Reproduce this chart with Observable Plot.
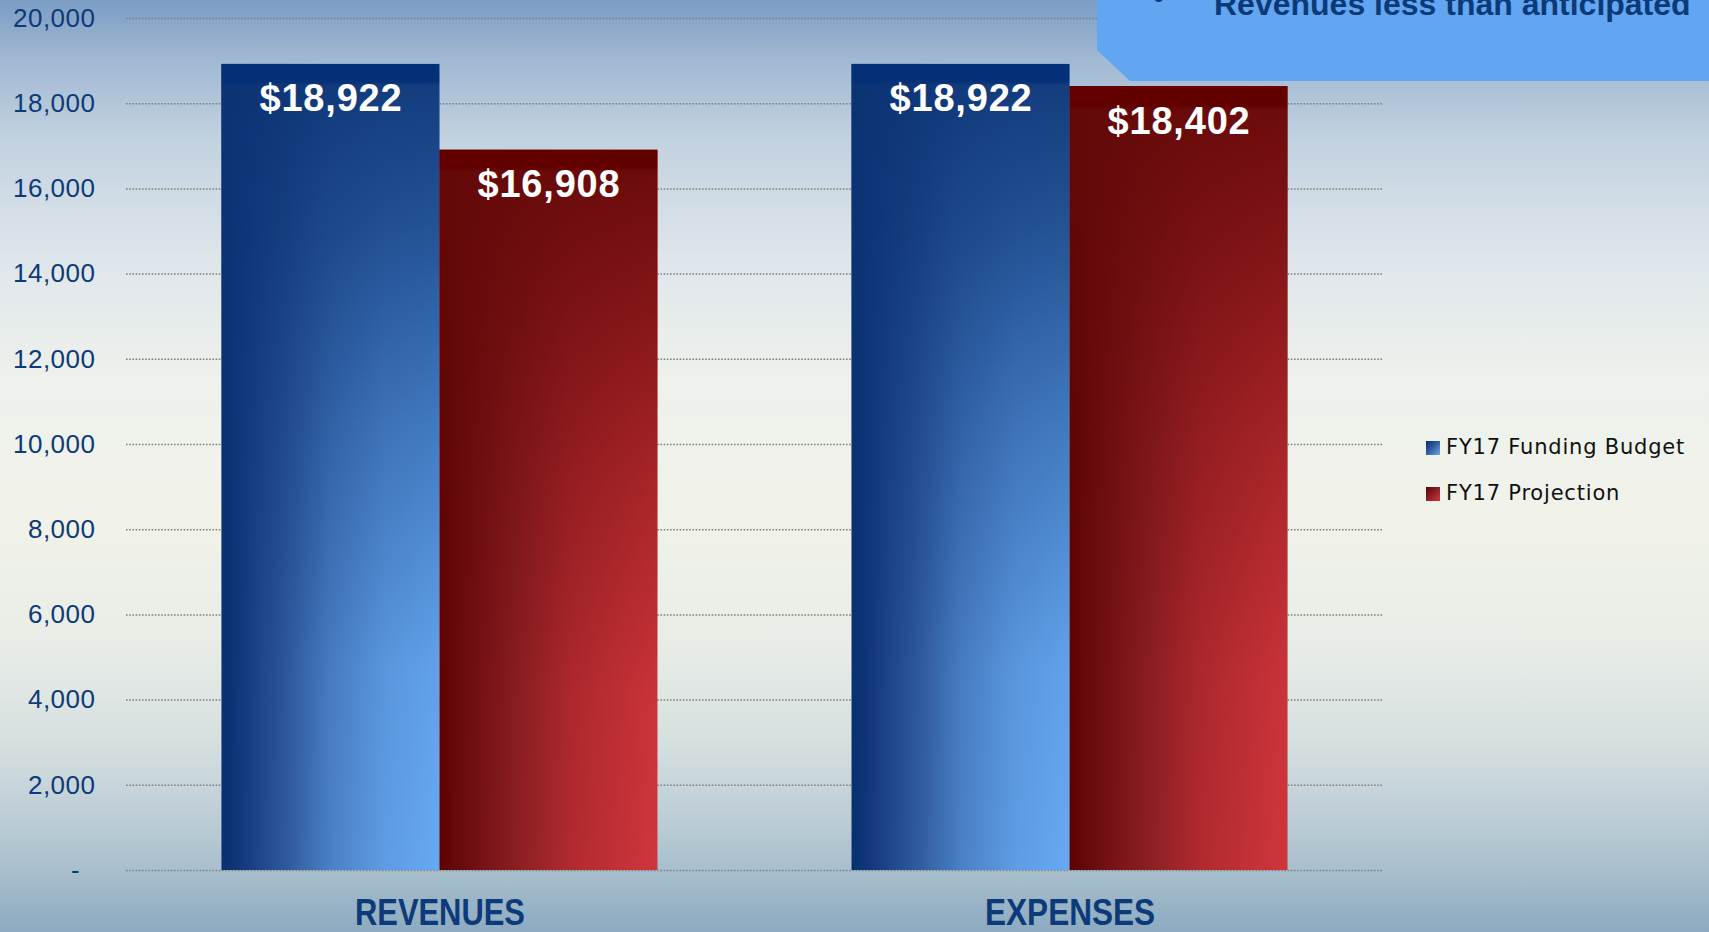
<!DOCTYPE html>
<html>
<head>
<meta charset="utf-8">
<script src="https://cdn.jsdelivr.net/npm/d3@7"></script>
<script src="https://cdn.jsdelivr.net/npm/@observablehq/plot@0.6"></script>
<style>
  html, body { margin: 0; padding: 0; }
  body {
    width: 1709px; height: 932px; overflow: hidden; position: relative;
    background: linear-gradient(to bottom, #7b9cc4 0px, #9fb7d2 55px, #c2d2e0 140px, #dfe6eb 260px, #eef1ec 380px, #f1f3ea 520px, #e9ede7 640px, #d6e0e0 740px, #bccdd6 820px, #a4bccb 880px, #8caac1 932px);
    font-family: "Liberation Sans", Arial, sans-serif;
  }
  #chart { position: absolute; left: 0; top: 0; }
  #callout {
    position: absolute; left: 1097px; top: 0; width: 612px; height: 81px;
    background: #62a5f1;
    clip-path: polygon(0 0, 100% 0, 100% 100%, 33px 100%, 0 50px);
    overflow: hidden;
  }
  #callout .txt {
    position: absolute; left: 117px; top: -14px; line-height: 32px;
    font: bold 32px "Liberation Sans", Arial, sans-serif; color: #0c3a78; white-space: nowrap;
  }
  #callout .bul {
    position: absolute; left: 56px; top: -21px; line-height: 32px;
    font: bold 32px "Liberation Sans", Arial, sans-serif; color: #0c3a78;
  }
  #legend { position: absolute; left: 1426px; top: 437px; }
  #legend .item { position: relative; height: 46px; font: 21px "DejaVu Sans", sans-serif; letter-spacing: 0.8px; color: #111; white-space: nowrap; }
  #legend .sw { position: absolute; left: 0; top: 4px; width: 14px; height: 14px; }
  #legend .lab { position: absolute; left: 20px; top: -5px; line-height: 30px; }
</style>
</head>
<body>
<div id="chart"></div>
<div id="callout"><span class="bul">•</span><span class="txt"></span></div>
<div id="legend"></div>
<script>
// ---- data ----
const categories = ["REVENUES", "EXPENSES"];
const seriesNames = ["FY17 Funding Budget", "FY17 Projection"];
const budgetValues = [18922, 18922];
const projectionValues = [16908, 18402];
const yTicks = [0, 2000, 4000, 6000, 8000, 10000, 12000, 14000, 16000, 18000, 20000];
const calloutText = "Revenues less than anticipated";

// ---- layout ----
const W = 1709, H = 932;
const mL = 126, mR = 326, mT = 18, mB = 62;
const padIn = 0.308, padOut = 0.1515;
const band = d3.scaleBand().domain(categories).range([mL, W - mR]).paddingInner(padIn).paddingOuter(padOut);
const bw = band.bandwidth();
const half = bw / 2;

const budgetRows = categories.map((c, i) => ({category: c, series: seriesNames[0], value: budgetValues[i]}));
const projRows = categories.map((c, i) => ({category: c, series: seriesNames[1], value: projectionValues[i]}));

const fmt = d3.format(",");
const label = d => "$" + fmt(d.value);
const axisBlue = "#0d3a78";

const valueText = (rows, dx) => Plot.text(rows, {
  x: "category", y: "value", text: label, dx, dy: 20, lineAnchor: "top",
  fill: "white", fontSize: 38, fontWeight: "bold", fontFamily: "Liberation Sans, Arial, sans-serif"
});

const plot = Plot.plot({
  width: W, height: H,
  marginLeft: mL, marginRight: mR, marginTop: mT, marginBottom: mB,
  style: {background: "transparent", overflow: "visible"},
  x: {domain: categories, paddingInner: padIn, paddingOuter: padOut, round: false, label: null},
  y: {domain: [0, 20000], label: null},
  marks: [
    Plot.ruleY(yTicks, {stroke: "#808080", strokeWidth: 1.5, strokeDasharray: "1.6,1.6"}),
    Plot.barY(budgetRows, {x: "category", y: "value", fill: "url(#blueH)", insetRight: half}),
    Plot.barY(budgetRows, {x: "category", y: "value", fill: "url(#blueV)", insetRight: half}),
    Plot.barY(projRows, {x: "category", y: "value", fill: "url(#redH)", insetLeft: half}),
    Plot.barY(projRows, {x: "category", y: "value", fill: "url(#redV)", insetLeft: half}),
    valueText(budgetRows, -half / 2),
    valueText(projRows, half / 2),
    Plot.axisY({
      ticks: yTicks, tickSize: 0, tickPadding: 31, label: null,
      tickFormat: d => d === 0 ? "-\u00a0\u00a0" : fmt(d),
      fontSize: 26, fill: axisBlue, fontFamily: "Liberation Sans, Arial, sans-serif"
    }),
    Plot.axisX({
      tickSize: 0, tickPadding: 29, label: null,
      fontSize: 36, fontWeight: "bold", fill: axisBlue,
      fontFamily: "Liberation Sans Narrow, Liberation Sans, Arial, sans-serif"
    })
  ]
});

plot.insertAdjacentHTML("afterbegin", `
<defs>
  <linearGradient id="blueH" x1="0" y1="0" x2="1" y2="0">
    <stop offset="0" stop-color="#06306f"/>
    <stop offset="0.08" stop-color="#12377a"/>
    <stop offset="0.3" stop-color="#2f5a9c"/>
    <stop offset="0.5" stop-color="#4a80c6"/>
    <stop offset="0.75" stop-color="#5e9ce4"/>
    <stop offset="1" stop-color="#66a9f2"/>
  </linearGradient>
  <linearGradient id="blueV" x1="0" y1="0" x2="0" y2="1">
    <stop offset="0" stop-color="#033076" stop-opacity="1"/>
    <stop offset="0.022" stop-color="#033076" stop-opacity="1"/>
    <stop offset="0.026" stop-color="#0c3475" stop-opacity="0.92"/>
    <stop offset="0.2" stop-color="#0c3475" stop-opacity="0.74"/>
    <stop offset="0.45" stop-color="#0c3475" stop-opacity="0.4"/>
    <stop offset="0.75" stop-color="#0c3475" stop-opacity="0.06"/>
    <stop offset="1" stop-color="#0c3475" stop-opacity="0"/>
  </linearGradient>
  <linearGradient id="redH" x1="0" y1="0" x2="1" y2="0">
    <stop offset="0" stop-color="#5e0000"/>
    <stop offset="0.08" stop-color="#670a0c"/>
    <stop offset="0.35" stop-color="#8a1e22"/>
    <stop offset="0.6" stop-color="#b02a30"/>
    <stop offset="1" stop-color="#d0363c"/>
  </linearGradient>
  <linearGradient id="redV" x1="0" y1="0" x2="0" y2="1">
    <stop offset="0" stop-color="#620000" stop-opacity="1"/>
    <stop offset="0.025" stop-color="#620000" stop-opacity="1"/>
    <stop offset="0.03" stop-color="#640808" stop-opacity="0.92"/>
    <stop offset="0.2" stop-color="#640808" stop-opacity="0.72"/>
    <stop offset="0.45" stop-color="#640808" stop-opacity="0.38"/>
    <stop offset="0.75" stop-color="#640808" stop-opacity="0.06"/>
    <stop offset="1" stop-color="#640808" stop-opacity="0"/>
  </linearGradient>
</defs>`);

// condense category labels, widen value labels
plot.querySelectorAll('[aria-label="x-axis tick label"] text').forEach(t => {
  t.setAttribute("textLength", "170");
  t.setAttribute("lengthAdjust", "spacingAndGlyphs");
});
plot.querySelectorAll('[aria-label="y-axis tick label"] text').forEach(t => {
  t.style.letterSpacing = "0.5px";
});
plot.querySelectorAll('[aria-label="text"] text').forEach(t => {
  t.style.letterSpacing = "0.8px";
});

document.getElementById("chart").appendChild(plot);
document.querySelector("#callout .txt").textContent = calloutText;

const swatches = [
  "linear-gradient(135deg, #06306f 0%, #2f5a9c 45%, #66a9f2 100%)",
  "linear-gradient(135deg, #5e0000 0%, #8a1e22 45%, #d0363c 100%)"
];
const legend = document.getElementById("legend");
seriesNames.forEach((name, i) => {
  const item = document.createElement("div");
  item.className = "item";
  const sw = document.createElement("div");
  sw.className = "sw";
  sw.style.background = swatches[i];
  const lab = document.createElement("div");
  lab.className = "lab";
  lab.textContent = name;
  item.appendChild(sw);
  item.appendChild(lab);
  legend.appendChild(item);
});
</script>
</body>
</html>
